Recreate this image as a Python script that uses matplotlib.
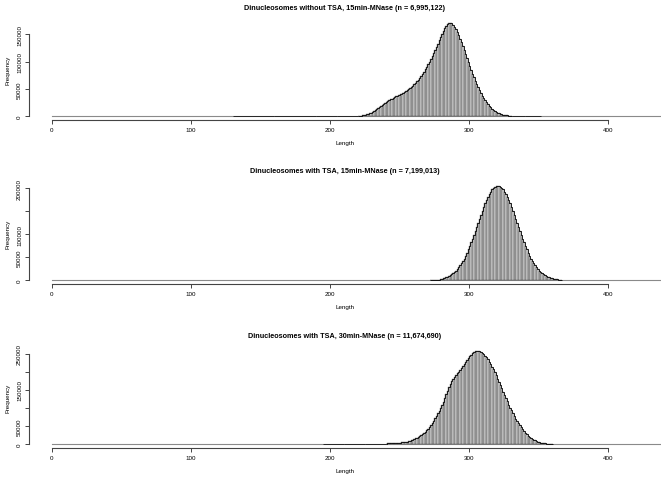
import matplotlib.pyplot as plt
import numpy as np

plt.rcParams['font.family'] = ['Liberation Sans', 'DejaVu Sans']

# range of histogram breaks (zero-count bins drawn along the baseline)
breaks_range = (0, 440)

titles = [
    "Dinucleosomes without TSA, 15min-MNase (n = 6,995,122)",
    "Dinucleosomes with TSA, 15min-MNase (n = 7,199,013)",
    "Dinucleosomes with TSA, 30min-MNase (n = 11,674,690)",
]

# counts per 1-bp bin, in thousands, starting at p*_start
p1_start = 220
p1_counts_k = [
    0.8, 1.0, 1.3, 1.7, 2.2, 2.8, 3.5, 4.4, 5.4, 6.6,
    8.0, 9.5, 11.2, 13.0, 14.8, 16.6, 18.5, 20.3, 22.1, 24.0,
    25.8, 27.5, 29.2, 30.8, 32.3, 33.7, 35.0, 36.3, 37.5, 38.8,
    40.1, 41.5, 43.0, 44.6, 46.3, 48.0, 49.8, 51.7, 53.7, 55.9,
    58.3, 61.0, 64.0, 67.2, 70.6, 74.2, 78.0, 82.0, 86.2, 90.6,
    95.2, 100.0, 105.0, 110.2, 115.6, 121.2, 127.0, 133.0, 139.0, 145.0,
    150.8, 156.2, 161.0, 165.2, 168.5, 170.8, 171.5, 170.6, 168.2, 164.6,
    160.0, 154.6, 148.6, 142.2, 135.5, 128.5, 121.3, 114.0, 106.6, 99.3,
    92.0, 84.9, 78.0, 71.3, 64.9, 58.8, 53.0, 47.6, 42.5, 37.8,
    33.4, 29.4, 25.7, 22.3, 19.3, 16.5, 14.0, 11.8, 9.9, 8.2,
    6.8, 5.6, 4.6, 3.7, 3.0, 2.4, 1.9, 1.5, 1.2, 1.0,
    0.8,
]
# sparse tails: (from, to, count in thousands per bin)
p1_tails = [(130, 160, 0.3), (160, 190, 0.3), (190, 205, 0.4), (205, 220, 0.5),
            (331, 340, 0.5), (340, 352, 0.3)]

p2_start = 272
p2_counts_k = [
    0.3, 0.4, 0.5, 0.6, 0.8, 1.0, 1.3, 1.7, 3.5, 4.2,
    5.1, 6.2, 7.5, 9.0, 10.7, 12.7, 15.0, 17.7, 20.7, 24.0,
    28.0, 32.0, 36.5, 42.0, 47.0, 53.0, 60.0, 67.0, 74.0, 82.0,
    90.0, 98.0, 107.0, 115.0, 124.0, 133.0, 142.0, 150.0, 159.0, 167.0,
    174.0, 181.0, 187.0, 192.0, 197.0, 200.0, 203.0, 204.5, 205.0, 204.5,
    203.0, 200.0, 197.0, 192.0, 187.0, 181.0, 174.0, 167.0, 159.0, 150.0,
    142.0, 133.0, 124.0, 115.0, 107.0, 98.0, 90.0, 82.0, 74.0, 67.0,
    60.0, 53.0, 47.0, 42.0, 36.5, 32.0, 28.0, 24.0, 20.7, 17.7,
    15.0, 12.7, 10.7, 9.0, 7.5, 6.2, 5.1, 4.2, 3.5, 2.8,
    2.3, 1.8, 1.5, 1.1, 0.9,
]
p2_tails = []

p3_start = 240
p3_counts_k = [
    2.0, 2.1, 2.3, 2.5, 2.7, 3.0, 3.3, 3.6, 4.0, 4.4,
    4.8, 5.2, 5.6, 6.0, 6.5, 7.0, 8.0, 9.5, 11.0, 12.5,
    14.0, 16.0, 18.0, 20.0, 22.5, 25.0, 28.0, 31.0, 35.0, 39.0,
    43.0, 47.5, 52.0, 58.0, 65.0, 72.0, 79.0, 86.0, 93.0, 100.0,
    109.0, 118.0, 128.0, 138.0, 148.0, 158.0, 166.0, 174.0, 181.0, 187.0,
    192.0, 197.0, 201.0, 205.0, 210.0, 215.0, 221.0, 227.0, 233.0, 239.0,
    244.0, 248.0, 252.0, 255.0, 257.0, 258.5, 258.5, 257.2, 255.4, 252.8,
    249.4, 245.2, 240.3, 234.7, 228.5, 221.7, 214.4, 206.7, 198.6, 190.2,
    181.5, 172.6, 163.6, 154.5, 145.4, 136.3, 127.3, 118.5, 109.9, 101.5,
    93.4, 85.6, 78.1, 71.0, 64.3, 57.9, 52.0, 46.4, 41.2, 36.4,
    32.0, 27.9, 24.2, 20.8, 17.8, 15.1, 12.7, 10.6, 8.8, 7.2,
    5.9, 4.8, 3.8, 3.0, 2.4, 1.9, 1.5, 1.2, 0.9, 0.7,
]
p3_tails = [(195, 210, 0.4), (210, 225, 0.6), (225, 240, 1.2)]

x_ticks = [0, 100, 200, 300, 400]
p1_yticks = [0, 50000, 100000, 150000]
p1_ylabels = ["0", "50000", "100000", "150000"]
p2_yticks = [0, 50000, 100000, 150000, 200000]
p2_ylabels = ["0", "50000", "100000", "", "200000"]
p3_yticks = [0, 50000, 100000, 150000, 200000, 250000]
p3_ylabels = ["0", "50000", "", "150000", "", "250000"]

W, H = 661, 481
# plot regions in pixels: (bottom, top)
regions = [(121, 20), (285, 183), (449, 348)]
left_px = 29


def draw_panel(ax, start, counts_k, tails, yticks, ylabels, title):
    counts = np.array(counts_k) * 1000
    ymax = counts.max()
    ax.plot(breaks_range, [0, 0], color="#8a8a8a", lw=0.8, zorder=1)
    for lo, hi, c in tails:
        ax.bar(lo, c * 1000, width=hi - lo, align="edge", color="#d3d3d3",
               edgecolor="black", linewidth=0.5, zorder=2)
    ax.bar(np.arange(start, start + len(counts)), counts, width=1, align="edge",
           color="#d3d3d3", edgecolor="#222222", linewidth=0.2, zorder=2)
    # darker outline along the top of the bars
    edges = np.arange(start, start + len(counts) + 1)
    ax.stairs(counts, edges, color="black", lw=0.6, zorder=3)

    ax.set_xlim(-16.5, 438)
    ax.set_ylim(-0.04 * ymax, 1.04 * ymax)
    for side in ["top", "right"]:
        ax.spines[side].set_visible(False)
    ax.spines["bottom"].set_bounds(0, 400)
    ax.spines["left"].set_bounds(0, yticks[-1])
    for side in ["bottom", "left"]:
        ax.spines[side].set_color("#444444")
        ax.spines[side].set_linewidth(0.8)

    ax.set_xticks(x_ticks, labels=[str(t) for t in x_ticks])
    ax.set_yticks(yticks, labels=ylabels)
    ax.tick_params(length=3, width=0.7, color="#444444", labelsize=4.5, pad=2)
    for lab in ax.get_yticklabels():
        lab.set_rotation(90)
        lab.set_va("center")
    ax.set_xlabel("Length", fontsize=4.5, labelpad=6)
    ax.set_ylabel("Frequency", fontsize=4.5, labelpad=5)
    ax.set_title(title, fontsize=5.2, fontweight="bold", pad=7)


fig = plt.figure(figsize=(W / 100, H / 100), dpi=100)
panels = [
    (p1_start, p1_counts_k, p1_tails, p1_yticks, p1_ylabels),
    (p2_start, p2_counts_k, p2_tails, p2_yticks, p2_ylabels),
    (p3_start, p3_counts_k, p3_tails, p3_yticks, p3_ylabels),
]
for (bot, top), title, (start, counts_k, tails, yt, yl) in zip(regions, titles, panels):
    ax = fig.add_axes([left_px / W, 1 - bot / H, 1 - left_px / W, (bot - top) / H])
    draw_panel(ax, start, counts_k, tails, yt, yl, title)

fig.savefig("out.png", dpi=100)
